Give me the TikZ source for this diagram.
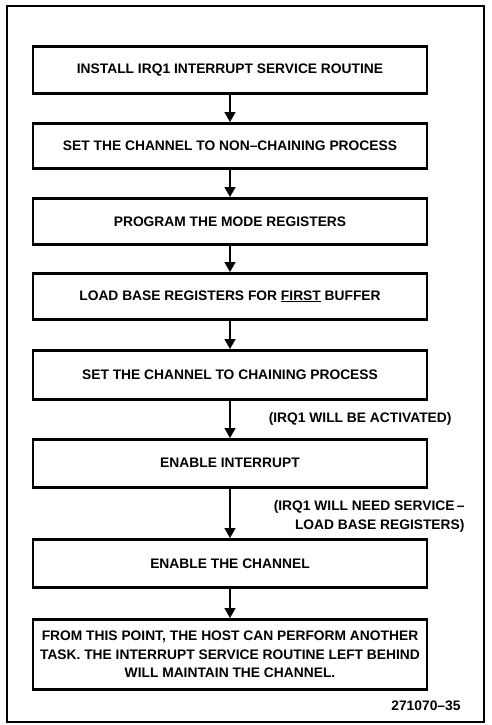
\documentclass[tikz,border=0pt]{standalone}
\usepackage{fontspec}
\setmainfont{Liberation Sans}
\usetikzlibrary{arrows.meta, positioning}

\begin{document}
\begin{tikzpicture}[
    x=1pt, y=-1pt,
    etapa/.style={
        draw=black,
        line width=2.6pt,
        minimum width=394pt,
        minimum height=47pt,
        align=center,
        font=\fontsize{13.8}{18.5}\selectfont\bfseries,
        anchor=north
    },
    seta/.style={
        line width=1.6pt,
        -{Triangle[length=10pt, width=11pt]}
    },
    nota/.style={
        font=\fontsize{13.8}{19}\selectfont\bfseries,
        align=right
    }
]

\useasboundingbox (0,0) rectangle (491,725);

% ---------------- frame ----------------

\draw[line width=1.3pt] (7,6) rectangle (484,722);

% ---------------- steps ----------------

\node[etapa] (install) at (230,45)
{INSTALL IRQ1 INTERRUPT SERVICE ROUTINE};

\node[etapa, minimum height=45pt] (nonchain) at (230,122)
{SET THE CHANNEL TO NON--CHAINING PROCESS};

\node[etapa, minimum height=46pt] (mode) at (230,197)
{PROGRAM THE MODE REGISTERS};

\node[etapa, minimum height=46pt] (loadbase) at (230,272)
{LOAD BASE REGISTERS FOR \underline{FIRST} BUFFER};

\node[etapa, minimum height=49pt] (chain) at (230,349)
{SET THE CHANNEL TO CHAINING PROCESS};

\node[etapa, minimum height=48pt] (enableint) at (230,438)
{ENABLE INTERRUPT};

\node[etapa, minimum height=48pt] (enablech) at (230,538)
{ENABLE THE CHANNEL};

\node[etapa, minimum height=70pt] (host) at (230,618)
{
    FROM THIS POINT, THE HOST CAN PERFORM ANOTHER\\
    TASK. THE INTERRUPT SERVICE ROUTINE LEFT BEHIND\\
    WILL MAINTAIN THE CHANNEL.
};

% ---------------- arrows ----------------

\draw[seta] (install) -- (nonchain);
\draw[seta] (nonchain) -- (mode);
\draw[seta] (mode) -- (loadbase);
\draw[seta] (loadbase) -- (chain);
\draw[seta] (chain) -- (enableint);
\draw[seta] (enableint) -- (enablech);
\draw[seta] (enablech) -- (host);

% ---------------- notes ----------------

\node[nota, anchor=east] (activated) at (455,419)
{(IRQ1 WILL BE ACTIVATED)};

\node[nota, anchor=east] (service) at (468,516)
{
    (IRQ1 WILL NEED SERVICE\,--\\
    LOAD BASE REGISTERS)
};

\node[nota, anchor=east] (figno) at (464,706)
{271070--35};

\end{tikzpicture}
\end{document}
